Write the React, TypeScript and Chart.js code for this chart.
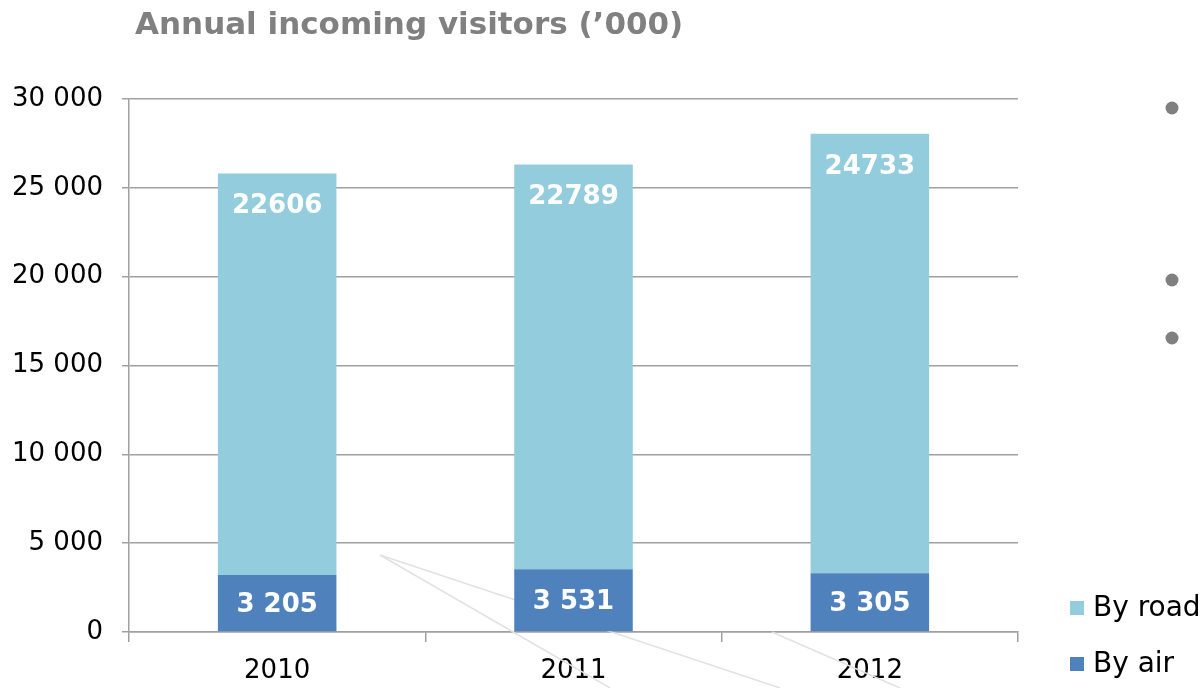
import React, { useEffect, useRef } from "react";
import { Chart, registerables } from "chart.js";

Chart.register(...registerables);

const title = "Annual incoming visitors (\u2019000)";
const categories = ["2010", "2011", "2012"];
const seriesNames = ["By road", "By air"];
const byAir = [3205, 3531, 3305];
const byRoad = [22606, 22789, 24733];
const yMin = 0;
const yMax = 30000;
const yStep = 5000;

const ROAD_COLOR = "#93CDDD";
const AIR_COLOR = "#4F81BD";
const GRID_COLOR = "#a0a0a0";
const FONT = '"DejaVu Sans", sans-serif';

const spaced = (v: number) => String(v).replace(/\B(?=(\d{3})+(?!\d))/g, " ");

const decorPlugin = {
  id: "decor",
  beforeDatasetsDraw(chart: any) {
    const ctx = chart.ctx;
    ctx.save();
    ctx.strokeStyle = "#e2e2e2";
    ctx.lineWidth = 1.5;
    const segs = [
      [380, 555, 780, 688],
      [380, 555, 610, 688],
      [772, 632, 900, 688],
    ];
    segs.forEach(([a, b, c, d]) => {
      ctx.beginPath();
      ctx.moveTo(a, b);
      ctx.lineTo(c, d);
      ctx.stroke();
    });
    ctx.restore();
  },
  afterDatasetsDraw(chart: any) {
    const ctx = chart.ctx;
    ctx.save();
    ctx.fillStyle = "#ffffff";
    ctx.font = `bold 26px ${FONT}`;
    ctx.textAlign = "center";
    ctx.textBaseline = "middle";
    const airMeta = chart.getDatasetMeta(0);
    airMeta.data.forEach((el: any, i: number) => {
      ctx.fillText(spaced(byAir[i]), el.x, (el.y + el.base) / 2 + 2);
    });
    const roadMeta = chart.getDatasetMeta(1);
    roadMeta.data.forEach((el: any, i: number) => {
      ctx.fillText(String(byRoad[i]), el.x, el.y + 33);
    });
    ctx.restore();
  },
  afterDraw(chart: any) {
    const ctx = chart.ctx;
    ctx.save();
    // title
    ctx.fillStyle = "#808080";
    ctx.font = `bold 31px ${FONT}`;
    ctx.textAlign = "left";
    ctx.textBaseline = "middle";
    ctx.fillText(title, 135, 26);
    // legend
    const legendColors = [ROAD_COLOR, AIR_COLOR];
    const legendY = [608, 664];
    ctx.font = `28px ${FONT}`;
    seriesNames.forEach((name, i) => {
      ctx.fillStyle = legendColors[i];
      ctx.fillRect(1070, legendY[i] - 7, 14, 14);
      ctx.fillStyle = "#000000";
      ctx.fillText(name, 1093, legendY[i] + 1);
    });
    // slide bullets
    ctx.fillStyle = "#808080";
    [108, 280, 338].forEach((y) => {
      ctx.beginPath();
      ctx.arc(1172, y, 6.5, 0, Math.PI * 2);
      ctx.fill();
    });
    ctx.restore();
  },
};

export default function App() {
  const ref = useRef<HTMLCanvasElement | null>(null);

  useEffect(() => {
    document.body.style.margin = "0";
    const canvas = ref.current;
    if (!canvas) return;
    const chart = new Chart(canvas, {
      type: "bar",
      data: {
        labels: categories,
        datasets: [
          {
            label: seriesNames[1],
            data: byAir,
            backgroundColor: AIR_COLOR,
            barPercentage: 0.4,
            categoryPercentage: 1.0,
          },
          {
            label: seriesNames[0],
            data: byRoad,
            backgroundColor: ROAD_COLOR,
            barPercentage: 0.4,
            categoryPercentage: 1.0,
          },
        ],
      },
      options: {
        responsive: false,
        animation: false,
        devicePixelRatio: 1,
        layout: { padding: { left: 0, top: 99, right: 186, bottom: 0 } },
        plugins: {
          legend: { display: false },
          title: { display: false },
          tooltip: { enabled: false },
        },
        scales: {
          x: {
            stacked: true,
            offset: true,
            grid: {
              display: true,
              drawOnChartArea: false,
              drawTicks: true,
              tickLength: 10,
              offset: true,
              color: GRID_COLOR,
              lineWidth: 1.5,
            },
            border: { display: true, color: GRID_COLOR, width: 1.5 },
            ticks: {
              font: { family: FONT, size: 26 },
              color: "#000000",
              padding: 14,
            },
            afterFit: (s: any) => {
              s.height = 56;
            },
          },
          y: {
            stacked: true,
            min: yMin,
            max: yMax,
            ticks: {
              stepSize: yStep,
              callback: (v: any) => spaced(Number(v)),
              font: { family: FONT, size: 26 },
              color: "#000000",
              padding: 19,
            },
            grid: {
              color: GRID_COLOR,
              lineWidth: 1.5,
              tickLength: 7,
            },
            border: { display: true, color: GRID_COLOR, width: 1.5 },
            afterFit: (s: any) => {
              s.width = 129;
            },
          },
        },
      },
      plugins: [decorPlugin],
    });
    return () => chart.destroy();
  }, []);

  return (
    <div style={{ width: 1204, height: 688, background: "#fff" }}>
      <canvas ref={ref} width={1204} height={688} style={{ display: "block" }} />
    </div>
  );
}
